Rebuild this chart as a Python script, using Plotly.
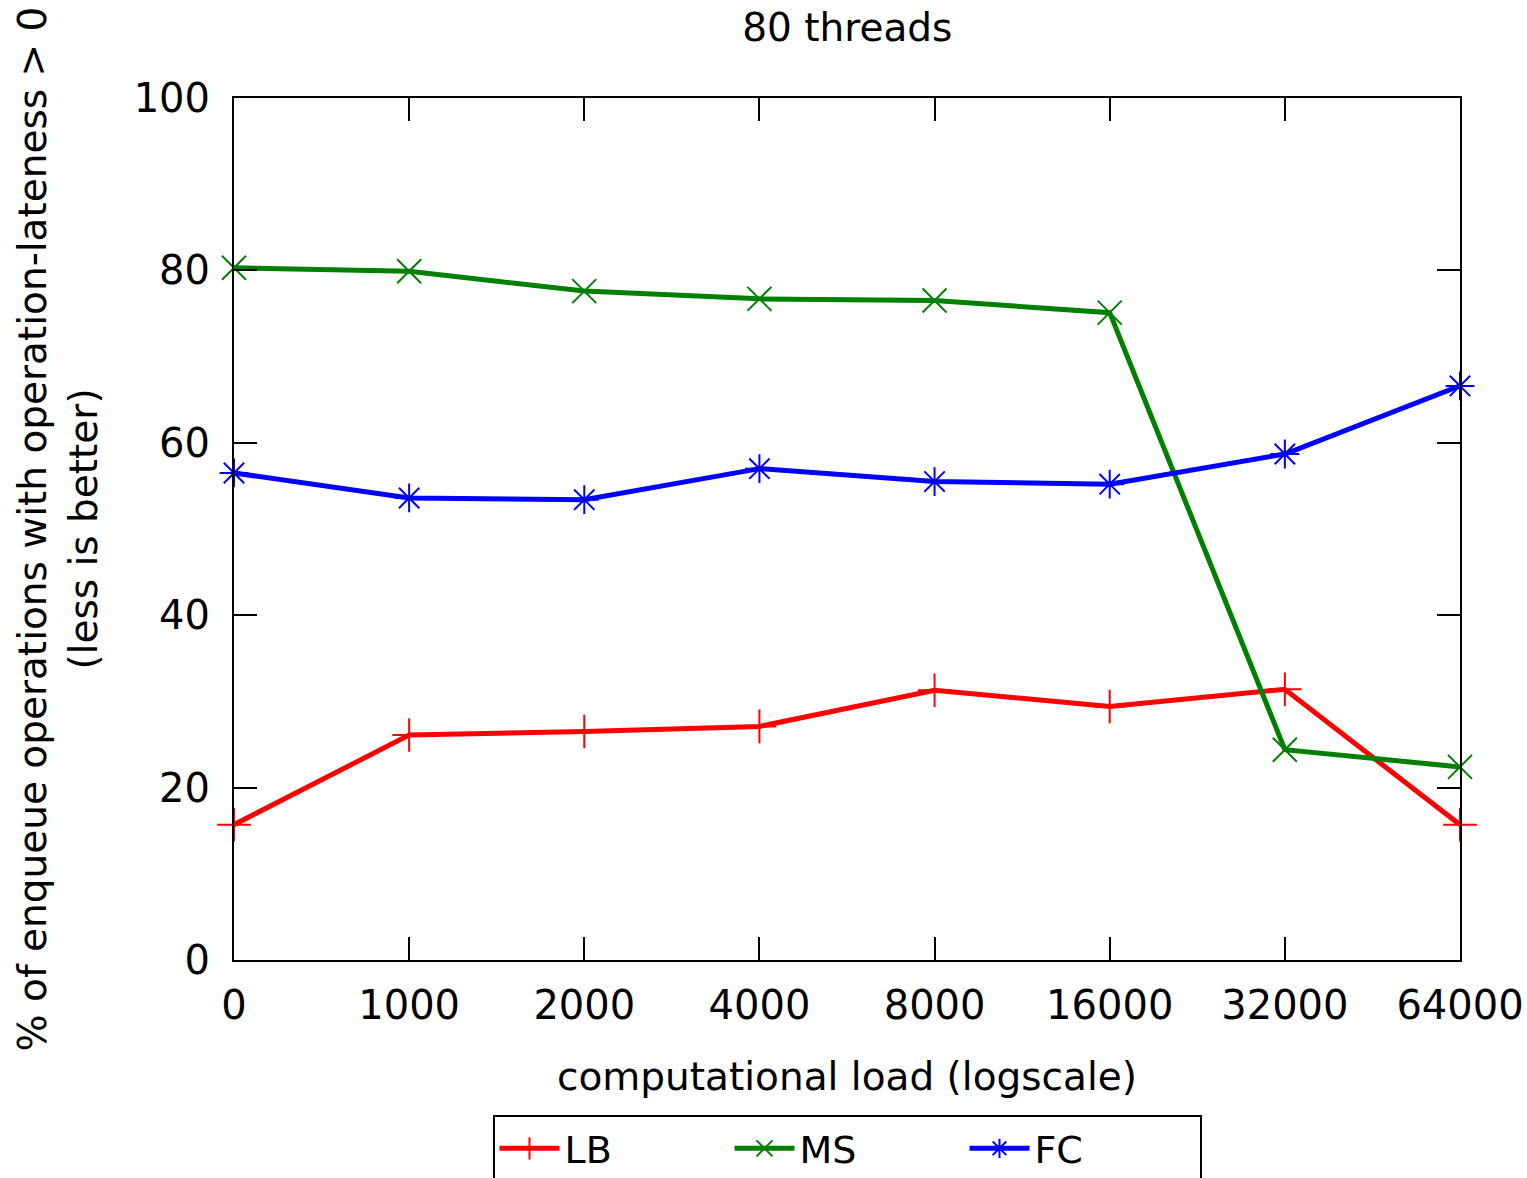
import plotly.graph_objects as go

# computational load categories (evenly spaced, log2 steps)
loads = ["0", "1000", "2000", "4000", "8000", "16000", "32000", "64000"]

# % of enqueue operations with operation-lateness > 0
lb = [15.7, 26.1, 26.5, 27.1, 31.3, 29.4, 31.4, 15.7]
ms = [80.3, 79.9, 77.6, 76.7, 76.5, 75.1, 24.4, 22.4]
fc = [56.5, 53.6, 53.4, 57.0, 55.5, 55.2, 58.7, 66.6]

series = [
    ("LB", lb, "red", "cross-thin-open"),
    ("MS", ms, "green", "x-thin-open"),
    ("FC", fc, "blue", "asterisk-open"),
]

FONT = "DejaVu Sans"
fig = go.Figure()
for name, vals, color, sym in series:
    fig.add_trace(go.Scatter(
        x=list(range(len(loads))), y=vals, name=name, mode="lines+markers",
        line=dict(color=color, width=5),
        marker=dict(symbol=sym, size=24, color=color,
                    line=dict(color=color, width=2)),
        cliponaxis=False,
    ))

axis_common = dict(
    showline=True, linecolor="black", linewidth=2, mirror="ticks",
    ticks="inside", ticklen=23, tickwidth=2, tickcolor="black",
    showgrid=False, zeroline=False,
    tickfont=dict(family=FONT, size=40, color="black"),
)

fig.update_layout(
    width=1527, height=1178,
    margin=dict(l=234, r=67, t=98, b=218, autoexpand=False),
    paper_bgcolor="white", plot_bgcolor="white",
    font=dict(family=FONT, size=39, color="black"),
    title=dict(text="80 threads", x=0.5549, xanchor="center",
               y=0.977, yanchor="middle", font=dict(family=FONT, size=39)),
    xaxis=dict(axis_common, range=[0, 7], tickmode="array",
               tickvals=list(range(len(loads))), ticktext=loads,
               ticklabelstandoff=9,
               title=dict(text="computational load (logscale)", standoff=36,
                          font=dict(family=FONT, size=39))),
    yaxis=dict(axis_common, range=[0, 100], dtick=20, ticklabelstandoff=14,
               title=dict(text="% of enqueue operations with operation-lateness > 0<br>(less is better)",
                          standoff=24, font=dict(family=FONT, size=39))),
    showlegend=True,
    legend=dict(orientation="h", x=0.5, xanchor="center", y=-0.18, yanchor="top",
                bordercolor="black", borderwidth=2, bgcolor="white",
                font=dict(family=FONT, size=38), entrywidth=160,
                itemwidth=60),
)

fig.write_html("out.html")
